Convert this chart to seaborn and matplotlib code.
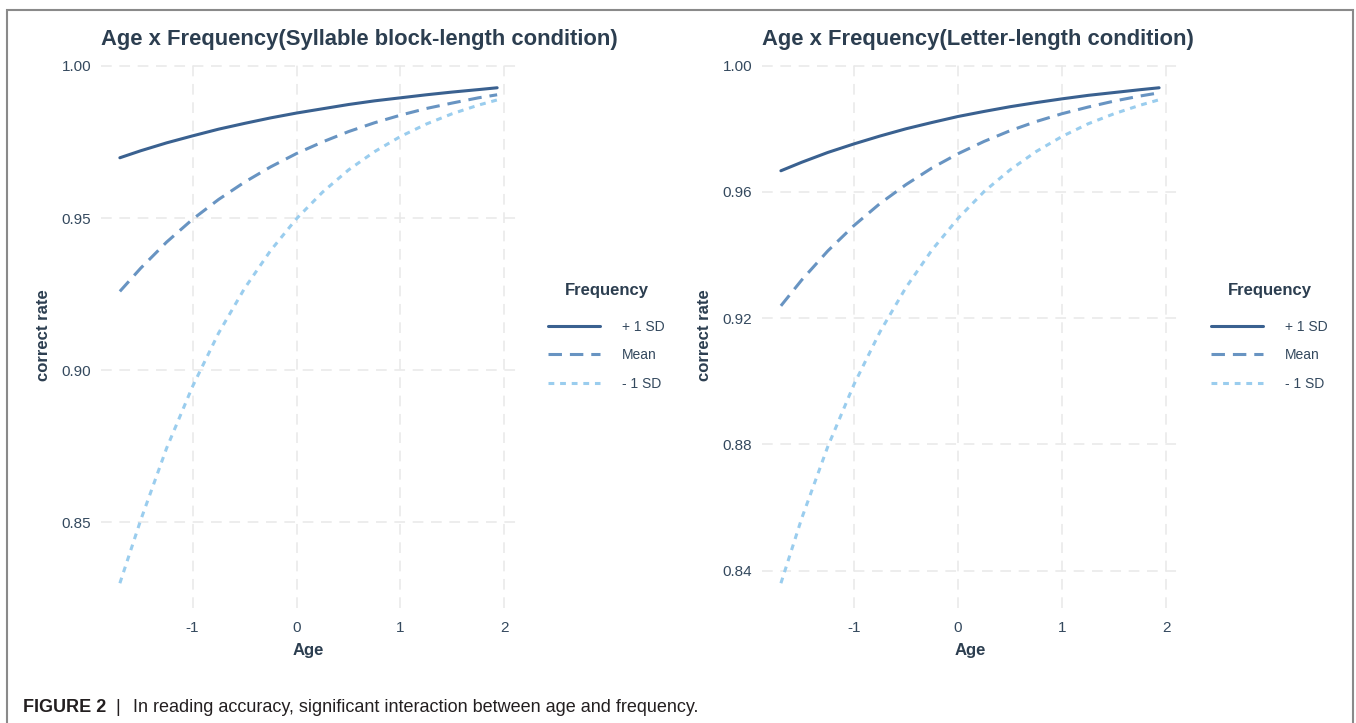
import matplotlib
matplotlib.use("Agg")
import matplotlib.pyplot as plt
import pandas as pd
import seaborn as sns
from matplotlib.patches import Rectangle

# Predicted correct rate by (standardised) age, one curve per frequency level
age = [-1.7, -1.5, -1.25, -1.0, -0.75, -0.5, -0.25, 0.0,
       0.25, 0.5, 0.75, 1.0, 1.25, 1.5, 1.75, 1.93]

levels = ["+ 1 SD", "Mean", "- 1 SD"]

# Syllable block-length condition
syl_plus = [0.9698, 0.9721, 0.9747, 0.9770, 0.9792, 0.9811, 0.9829, 0.9845,
            0.9859, 0.9873, 0.9885, 0.9895, 0.9905, 0.9914, 0.9922, 0.9928]
syl_mean = [0.9259, 0.9335, 0.9421, 0.9496, 0.9561, 0.9618, 0.9668, 0.9712,
            0.9750, 0.9784, 0.9813, 0.9838, 0.9860, 0.9878, 0.9895, 0.9905]
syl_minus = [0.8300, 0.8507, 0.8744, 0.8947, 0.9122, 0.9269, 0.9393, 0.9498,
             0.9585, 0.9658, 0.9718, 0.9768, 0.9809, 0.9843, 0.9871, 0.9888]

# Letter-length condition
let_plus = [0.9667, 0.9694, 0.9725, 0.9752, 0.9777, 0.9800, 0.9820, 0.9839,
            0.9855, 0.9870, 0.9883, 0.9895, 0.9906, 0.9915, 0.9924, 0.9930]
let_mean = [0.9239, 0.9321, 0.9413, 0.9493, 0.9563, 0.9623, 0.9676, 0.9721,
            0.9760, 0.9794, 0.9823, 0.9848, 0.9869, 0.9888, 0.9904, 0.9914]
let_minus = [0.8360, 0.8566, 0.8793, 0.8989, 0.9156, 0.9297, 0.9416, 0.9516,
             0.9601, 0.9670, 0.9728, 0.9776, 0.9816, 0.9848, 0.9875, 0.9892]

x_ticks = [-1, 0, 1, 2]
syl_yticks = [0.85, 0.90, 0.95, 1.00]
let_yticks = [0.84, 0.88, 0.92, 0.96, 1.00]

titles = ["Age x Frequency(Syllable block-length condition)",
          "Age x Frequency(Letter-length condition)"]


def long_frame(plus, mean, minus):
    parts = []
    for lvl, vals in zip(levels, [plus, mean, minus]):
        parts.append(pd.DataFrame({"Age": age, "rate": vals, "Frequency": lvl}))
    return pd.concat(parts, ignore_index=True)


sns.set_theme(style="white")
plt.rcParams["font.family"] = ["Liberation Sans", "DejaVu Sans"]

TITLE_C = "#2c3e50"
TICK_C = "#34495e"
palette = {"+ 1 SD": "#3a6190", "Mean": "#6894c2", "- 1 SD": "#9acdee"}
dash_map = {"+ 1 SD": "", "Mean": (4.4, 2.6), "- 1 SD": (1.9, 1.9)}

fig = plt.figure(figsize=(13.56, 7.23), dpi=100)
W, H = 1356, 723

panels = [
    dict(df=long_frame(syl_plus, syl_mean, syl_minus), yt=syl_yticks,
         rect=(101 / W, 1 - 608 / H, 415 / W, 545 / H), leg_x=548 / W),
    dict(df=long_frame(let_plus, let_mean, let_minus), yt=let_yticks,
         rect=(762 / W, 1 - 608 / H, 416 / W, 545 / H), leg_x=1211 / W),
]

for p, title in zip(panels, titles):
    ax = fig.add_axes(p["rect"])
    sns.lineplot(data=p["df"], x="Age", y="rate", hue="Frequency",
                 style="Frequency", hue_order=levels, style_order=levels,
                 palette=palette, dashes=dash_map, linewidth=2.2, ax=ax)
    ax.margins(x=0.05, y=0.05)
    ax.set_xticks(x_ticks)
    ax.set_xticklabels([str(t) for t in x_ticks])
    ax.set_yticks(p["yt"])
    ax.set_yticklabels([f"{t:.2f}" for t in p["yt"]])
    ax.tick_params(axis="both", length=0, labelsize=11, colors=TICK_C)
    ax.tick_params(axis="y", pad=7)
    ax.tick_params(axis="x", pad=9)
    ax.grid(True, color="#e8e8e8", linestyle=(0, (7, 5)), linewidth=1.1)
    ax.set_axisbelow(True)
    for s in ax.spines.values():
        s.set_visible(False)
    ax.set_xlabel("Age", fontsize=12, fontweight="bold", color=TITLE_C, labelpad=6)
    ax.set_ylabel("correct rate", fontsize=12, fontweight="bold", color=TITLE_C, labelpad=8)
    ax.set_title(title, loc="left", fontsize=15.8, fontweight="bold", color=TITLE_C, pad=13)

    handles, labels = ax.get_legend_handles_labels()
    keep = [(h, l) for h, l in zip(handles, labels) if l in levels]
    ax.get_legend().remove()
    leg = ax.legend([h for h, _ in keep], [l for _, l in keep], title="Frequency",
                    loc="center left", bbox_to_anchor=(p["leg_x"], 1 - 337 / H),
                    bbox_transform=fig.transFigure, frameon=False, fontsize=10,
                    handlelength=3.75, handletextpad=1.6, labelspacing=1.05,
                    borderpad=0, borderaxespad=0)
    # a little more room between the legend title and its entries
    leg._legend_box.sep = 1.05 * 10 + 5
    leg.get_title().set_fontweight("bold")
    leg.get_title().set_fontsize(12)
    leg.get_title().set_color(TITLE_C)
    for t in leg.get_texts():
        t.set_color(TICK_C)
    for h in leg.legend_handles:
        h.set_linewidth(2.2)

# Outer frame of the figure panel
fig.add_artist(Rectangle((7 / W, -0.05), (1353 - 7) / W, (H - 10) / H + 0.05,
                         transform=fig.transFigure, fill=False,
                         edgecolor="#8a8a8a", linewidth=1.5))

# Caption
cap_y = 1 - 708 / H
fig.text(23 / W, cap_y, "FIGURE 2", fontsize=13, fontweight="bold",
         color="#231f20", va="center", ha="left")
fig.text(115 / W, cap_y, "|", fontsize=13, color="#231f20", va="center", ha="left")
fig.text(133 / W, cap_y,
         "In reading accuracy, significant interaction between age and frequency.",
         fontsize=13, color="#231f20", va="center", ha="left")

fig.savefig("out.png", dpi=100)
